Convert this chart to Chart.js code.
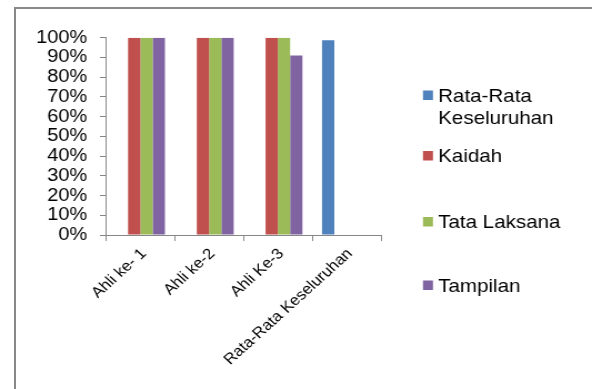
<!DOCTYPE html>
<html>
<head>
<meta charset="utf-8">
<script src="https://cdn.jsdelivr.net/npm/chart.js@4.4.1/dist/chart.umd.min.js"></script>
<style>
  html, body { margin: 0; padding: 0; background: #fff; overflow: hidden; }
  #frame { position: absolute; left: 14px; top: 7px; width: 620px; height: 420px;
           border-left: 2px solid #898989; border-top: 2px solid #898989; }
  #wrap { position: absolute; left: 0; top: 0; width: 533px; height: 389px;
          transform: scaleX(1.1107); transform-origin: 0 0; }
</style>
</head>
<body>
<div id="frame"></div>
<div id="wrap"><canvas id="c" width="533" height="389"></canvas></div>
<script>
// Categories and series
const categories = ['Ahli ke- 1', 'Ahli ke-2', 'Ahli Ke-3', 'Rata-Rata Keseluruhan'];
const rataRata    = [null, null, null, 98.7];
const kaidah      = [100, 100, 100, null];
const tataLaksana = [100, 100, 100, null];
const tampilan    = [100, 100, 91, null];
const seriesNames = ['Rata-Rata Keseluruhan', 'Kaidah', 'Tata Laksana', 'Tampilan'];
const yTicks = [0, 10, 20, 30, 40, 50, 60, 70, 80, 90, 100];

const FONT = '"Liberation Sans", Arial, sans-serif';
const AXIS = '#868686';

// Legend on the right, drawn by hand so items can wrap and keep their own spacing
const sideLegend = {
  id: 'sideLegend',
  afterDraw(chart, args, opts) {
    const ctx = chart.ctx;
    ctx.save();
    ctx.font = opts.fontSize + 'px ' + FONT;
    ctx.fillStyle = '#000';
    ctx.textAlign = 'left';
    ctx.textBaseline = 'alphabetic';
    chart.data.datasets.forEach((ds, i) => {
      const words = ds.label.split(' ');
      const lines = [];
      let cur = '';
      words.forEach(w => {
        const test = cur ? cur + ' ' + w : w;
        if (cur && ctx.measureText(test).width > opts.maxWidth) { lines.push(cur); cur = w; }
        else cur = test;
      });
      lines.push(cur);
      const cy = opts.rows[i];
      ctx.fillStyle = ds.backgroundColor;
      ctx.fillRect(opts.boxX, cy - 4.5, opts.boxW, 9.5);
      ctx.fillStyle = '#000';
      lines.forEach((ln, k) => {
        ctx.fillText(ln, opts.textX, cy + k * opts.lineH + opts.fontSize * 0.36);
      });
    });
    ctx.restore();
  }
};

new Chart(document.getElementById('c'), {
  type: 'bar',
  data: {
    labels: categories,
    datasets: [
      { label: seriesNames[0], data: rataRata,    backgroundColor: '#4F81BD' },
      { label: seriesNames[1], data: kaidah,      backgroundColor: '#C0504D' },
      { label: seriesNames[2], data: tataLaksana, backgroundColor: '#9BBB59' },
      { label: seriesNames[3], data: tampilan,    backgroundColor: '#8064A2' }
    ]
  },
  options: {
    responsive: false,
    animation: false,
    events: [],
    categoryPercentage: 0.715,
    barPercentage: 1.0,
    layout: { padding: { left: 0, right: 190, top: 37.7, bottom: 0 } },
    plugins: {
      legend: { display: false },
      tooltip: { enabled: false },
      sideLegend: {
        boxX: 380.8, boxW: 9, textX: 394.5, fontSize: 18.5, lineH: 22,
        maxWidth: 135, rows: [95, 155.5, 221.5, 285]
      }
    },
    scales: {
      x: {
        grid: { display: true, drawOnChartArea: false, drawTicks: true, tickLength: 6, color: AXIS, offset: true },
        border: { display: true, color: AXIS, width: 1 },
        ticks: {
          autoSkip: false, maxRotation: 45, minRotation: 45, padding: 4, labelOffset: 3,
          color: '#000', font: { family: FONT, size: 15 }
        },
        afterFit(scale) { scale.height = 154; }
      },
      y: {
        min: 0, max: 100,
        afterBuildTicks(scale) { scale.ticks = yTicks.map(v => ({ value: v })); },
        grid: { display: true, drawOnChartArea: false, drawTicks: true, tickLength: 5.4, color: AXIS },
        border: { display: true, color: AXIS, width: 1 },
        ticks: {
          autoSkip: false, padding: 11.5, color: '#000', font: { family: FONT, size: 18 },
          callback: v => v + '%'
        },
        afterFit(scale) { scale.width = 95.4; }
      }
    }
  },
  plugins: [sideLegend]
});
</script>
</body>
</html>
